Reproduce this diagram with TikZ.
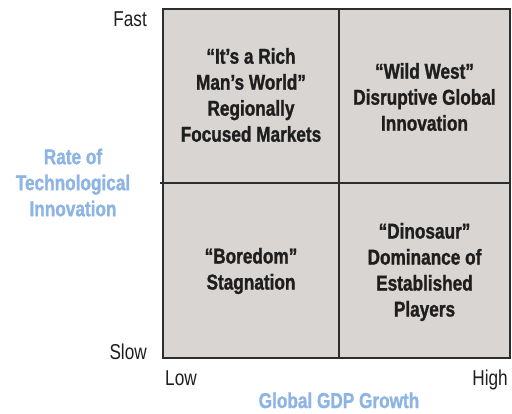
\documentclass[tikz,border=0pt]{standalone}
\usepackage{fontspec}
\setmainfont{Liberation Sans}[FakeStretch=0.8, BoldFeatures={FakeBold=1.2}]
\definecolor{cellgray}{RGB}{216,213,211}
\definecolor{axisblue}{RGB}{141,180,226}
\definecolor{linegray}{RGB}{45,45,45}
\definecolor{textdark}{RGB}{30,30,30}
\begin{document}
\begin{tikzpicture}[x=1pt,y=1pt,
  cell/.style={font=\fontsize{21.5}{26}\selectfont\bfseries, text=textdark, align=center, inner sep=0pt},
  tick/.style={font=\fontsize{21.5}{26}\selectfont, text=textdark, inner sep=0pt},
  axislabel/.style={font=\fontsize{21.5}{26}\selectfont\bfseries, text=axisblue, align=center, inner sep=0pt},
  gridline/.style={draw=linegray, line width=1.4pt}]
\useasboundingbox (0,0) rectangle (512,413);
\coordinate (bl) at (163,55);
\coordinate (tr) at (510,404);
\coordinate (mtop) at (339,404);
\coordinate (mbot) at (339,55);
\coordinate (mleft) at (160,230);
\coordinate (mright) at (510,230);
\fill[cellgray] (bl) rectangle (tr);
\draw[gridline] (bl) rectangle (tr);
\draw[gridline] (mtop) -- (mbot);
\draw[gridline] (mleft) -- (mright);
\node[cell] (tl) at (251,318) {“It’s a Rich\\Man’s World”\\Regionally\\Focused Markets};
\node[cell] (trq) at (424.5,316) {“Wild West”\\Disruptive Global\\Innovation};
\node[cell] (blq) at (251,142) {“Boredom”\\Stagnation};
\node[cell] (brq) at (424.5,141) {“Dinosaur”\\Dominance of\\Established\\Players};
\node[tick, anchor=base east] (fast) at (147,386) {Fast};
\node[tick, anchor=base east] (slow) at (147,54) {Slow};
\node[tick, anchor=base west] (low) at (165,28) {Low};
\node[tick, anchor=base east] (high) at (508,28) {High};
\node[axislabel, anchor=base] (xlab) at (339,5) {Global GDP Growth};
\node[axislabel] (ylab) at (73,230.5) {Rate of\\Technological\\Innovation};
\end{tikzpicture}
\end{document}
